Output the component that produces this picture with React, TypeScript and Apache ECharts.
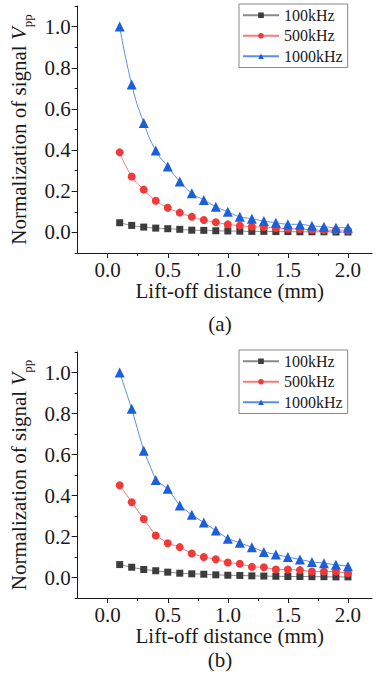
import React, { useEffect, useRef } from "react";
import * as echarts from "echarts";

const distance = [0.1, 0.2, 0.3, 0.4, 0.5, 0.6, 0.7, 0.8, 0.9, 1.0, 1.1, 1.2, 1.3, 1.4, 1.5, 1.6, 1.7, 1.8, 1.9, 2.0];
const seriesNames = ["100kHz", "500kHz", "1000kHz"];

const a100 = [0.047, 0.034, 0.026, 0.021, 0.018, 0.015, 0.011, 0.010, 0.008, 0.007, 0.006, 0.005, 0.005, 0.004, 0.004, 0.003, 0.003, 0.003, 0.002, 0.002];
const a500 = [0.389, 0.272, 0.208, 0.154, 0.120, 0.096, 0.076, 0.060, 0.049, 0.039, 0.033, 0.028, 0.026, 0.021, 0.018, 0.016, 0.013, 0.011, 0.011, 0.010];
const a1000 = [1.0, 0.719, 0.532, 0.398, 0.320, 0.247, 0.190, 0.158, 0.125, 0.100, 0.076, 0.067, 0.055, 0.047, 0.040, 0.039, 0.032, 0.028, 0.023, 0.023];

const b100 = [0.063, 0.050, 0.039, 0.033, 0.026, 0.021, 0.018, 0.016, 0.013, 0.011, 0.010, 0.008, 0.007, 0.006, 0.005, 0.005, 0.004, 0.004, 0.003, 0.003];
const b500 = [0.450, 0.367, 0.285, 0.205, 0.167, 0.148, 0.117, 0.100, 0.089, 0.073, 0.067, 0.052, 0.050, 0.039, 0.039, 0.036, 0.029, 0.029, 0.029, 0.021];
const b1000 = [1.0, 0.823, 0.618, 0.476, 0.433, 0.351, 0.306, 0.268, 0.229, 0.189, 0.169, 0.148, 0.125, 0.112, 0.100, 0.088, 0.076, 0.070, 0.062, 0.055];

const xMajor = [0, 0.5, 1.0, 1.5, 2.0];
const xMinor = [0.25, 0.75, 1.25, 1.75];
const yMajor = [0, 0.2, 0.4, 0.6, 0.8, 1.0];
const yMinor = [-0.1, 0.1, 0.3, 0.5, 0.7, 0.9, 1.1];

const FONT = "Liberation Serif";
const AXIS_COLOR = "#1a1a1a";
const FS = 21;

const styles = [
  { symbol: "rect", size: 7, marker: "#3c3c3c", line: "#8a8a8a" },
  { symbol: "circle", size: 8, marker: "#f03a3a", line: "#f27c7c" },
  { symbol: "triangle", size: 10, marker: "#1b5fd9", line: "#5e8fe6" },
];

function pairs(ys: number[]) {
  return distance.map((x, i) => [x, ys[i]]);
}

export default function App() {
  const ref = useRef<HTMLDivElement>(null);

  useEffect(() => {
    if (!ref.current) return;
    const chart = echarts.init(ref.current, null, { renderer: "svg" });

    const grids = [
      { left: 73, top: 6, width: 299, height: 247 },
      { left: 73, top: 352, width: 299, height: 246 },
    ];

    const xAxes: any[] = [];
    const yAxes: any[] = [];
    grids.forEach((_, g) => {
      xAxes.push({
        type: "value",
        gridIndex: g,
        position: "bottom",
        min: -0.25,
        max: 2.2,
        name: "Lift-off distance (mm)",
        nameLocation: "middle",
        nameGap: 27,
        nameTextStyle: { fontFamily: FONT, fontSize: FS, color: AXIS_COLOR, padding: [0, 0, 0, 10] },
        axisLine: { show: true, onZero: false, lineStyle: { color: AXIS_COLOR, width: 1 } },
        axisTick: { show: true, customValues: xMajor, length: 5, lineStyle: { color: AXIS_COLOR } },
        axisLabel: {
          customValues: xMajor,
          fontFamily: FONT,
          fontSize: FS,
          color: AXIS_COLOR,
          margin: 6,
          formatter: (v: number) => v.toFixed(1),
        },
        splitLine: { show: false },
      });
      xAxes.push({
        type: "value",
        gridIndex: g,
        position: "bottom",
        min: -0.25,
        max: 2.2,
        axisLine: { show: false, onZero: false },
        axisTick: { show: true, customValues: xMinor, length: 3, lineStyle: { color: AXIS_COLOR } },
        axisLabel: { show: false },
        splitLine: { show: false },
      });
      yAxes.push({
        type: "value",
        gridIndex: g,
        position: "left",
        min: -0.1,
        max: 1.1,
        name: "{n|Normalization of signal }{v|V}{s|pp}",
        nameLocation: "middle",
        nameRotate: 90,
        nameGap: 38,
        nameTextStyle: {
          fontFamily: FONT,
          fontSize: FS,
          color: AXIS_COLOR,
          rich: {
            n: { fontFamily: FONT, fontSize: FS, color: AXIS_COLOR, lineHeight: 30 },
            v: { fontFamily: FONT, fontSize: FS, color: AXIS_COLOR, fontStyle: "italic", lineHeight: 30 },
            s: { fontFamily: FONT, fontSize: 13, color: AXIS_COLOR, lineHeight: 13, verticalAlign: "bottom" },
          },
        },
        axisLine: { show: true, onZero: false, lineStyle: { color: AXIS_COLOR, width: 1 } },
        axisTick: { show: true, customValues: yMajor, length: 6, lineStyle: { color: AXIS_COLOR } },
        axisLabel: {
          customValues: yMajor,
          fontFamily: FONT,
          fontSize: FS,
          color: AXIS_COLOR,
          margin: 7,
          formatter: (v: number) => v.toFixed(1),
        },
        splitLine: { show: false },
      });
      yAxes.push({
        type: "value",
        gridIndex: g,
        position: "left",
        min: -0.1,
        max: 1.1,
        axisLine: { show: false, onZero: false },
        axisTick: { show: true, customValues: yMinor, length: 3, lineStyle: { color: AXIS_COLOR } },
        axisLabel: { show: false },
        splitLine: { show: false },
      });
    });

    const dataSets = [
      { smooth: true, values: [a100, a500, a1000] },
      { smooth: false, values: [b100, b500, b1000] },
    ];

    const series: any[] = [];
    dataSets.forEach((ds, g) => {
      ds.values.forEach((vals, k) => {
        const st = styles[k];
        series.push({
          type: "line",
          name: seriesNames[k],
          xAxisIndex: g * 2,
          yAxisIndex: g * 2,
          data: pairs(vals),
          smooth: ds.smooth,
          symbol: st.symbol,
          symbolSize: st.size,
          showSymbol: true,
          itemStyle: { color: st.marker },
          lineStyle: { color: st.line, width: 1 },
          z: 2 + k,
        });
      });
    });

    const legendBase = {
      orient: "vertical",
      left: 239,
      itemWidth: 36,
      itemHeight: 7,
      itemGap: 4,
      padding: [3, 5, 3, 3],
      borderColor: "#888",
      borderWidth: 1,
      borderRadius: 0,
      backgroundColor: "#fff",
      selectedMode: false,
      data: seriesNames,
      textStyle: { fontFamily: FONT, fontSize: 16, color: AXIS_COLOR, lineHeight: 16.5 },
    };

    chart.setOption({
      animation: false,
      backgroundColor: "#fff",
      textStyle: { fontFamily: FONT },
      grid: grids,
      xAxis: xAxes,
      yAxis: yAxes,
      legend: [
        { ...legendBase, top: 4 },
        { ...legendBase, top: 350 },
      ],
      graphic: [
        {
          type: "text",
          x: 220,
          y: 324,
          style: { text: "(a)", fontFamily: FONT, fontSize: FS, fill: AXIS_COLOR, textAlign: "center", textVerticalAlign: "middle" },
        },
        {
          type: "text",
          x: 220,
          y: 660,
          style: { text: "(b)", fontFamily: FONT, fontSize: FS, fill: AXIS_COLOR, textAlign: "center", textVerticalAlign: "middle" },
        },
      ],
      series,
    });

    return () => chart.dispose();
  }, []);

  return (
    <div
      ref={ref}
      style={{ position: "fixed", left: 0, top: 0, width: 376, height: 677, background: "#fff" }}
    />
  );
}
